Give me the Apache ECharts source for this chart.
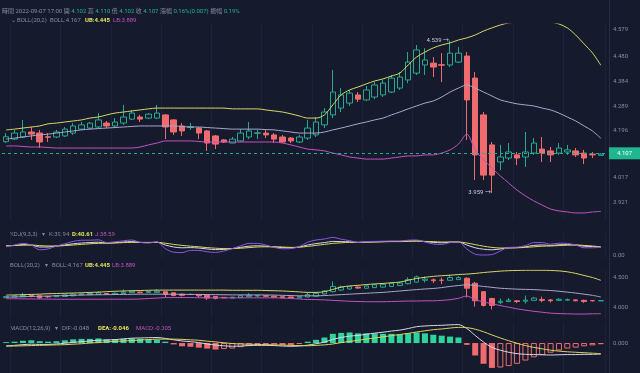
<!DOCTYPE html>
<html><head><meta charset="utf-8">
<script src="https://cdn.jsdelivr.net/npm/echarts@6/dist/echarts.min.js"></script>
<style>html,body{margin:0;padding:0;background:#151a2d}#c{width:640px;height:373px}</style>
</head><body><div id="c"></div><script>
const categories = [
'09-04 18:00','09-04 19:00','09-04 20:00','09-04 21:00','09-04 22:00','09-04 23:00',
'09-05 00:00','09-05 01:00','09-05 02:00','09-05 03:00','09-05 04:00','09-05 05:00','09-05 06:00','09-05 07:00','09-05 08:00','09-05 09:00','09-05 10:00','09-05 11:00',
'09-05 12:00','09-05 13:00','09-05 14:00','09-05 15:00','09-05 16:00','09-05 17:00','09-05 18:00','09-05 19:00','09-05 20:00','09-05 21:00','09-05 22:00','09-05 23:00',
'09-06 00:00','09-06 01:00','09-06 02:00','09-06 03:00','09-06 04:00','09-06 05:00','09-06 06:00','09-06 07:00','09-06 08:00','09-06 09:00','09-06 10:00','09-06 11:00',
'09-06 12:00','09-06 13:00','09-06 14:00','09-06 15:00','09-06 16:00','09-06 17:00','09-06 18:00','09-06 19:00','09-06 20:00','09-06 21:00','09-06 22:00','09-06 23:00',
'09-07 00:00','09-07 01:00','09-07 02:00','09-07 03:00','09-07 04:00','09-07 05:00','09-07 06:00','09-07 07:00','09-07 08:00','09-07 09:00','09-07 10:00','09-07 11:00',
'09-07 12:00','09-07 13:00','09-07 14:00','09-07 15:00','09-07 16:00','09-07 17:00'];
const open = [4.154,4.164,4.172,4.191,4.187,4.173,4.172,4.176,4.187,4.202,
4.206,4.210,4.225,4.214,4.225,4.240,4.248,4.244,4.244,4.256,
4.237,4.214,4.208,4.206,4.195,4.176,4.161,4.149,4.157,4.172,
4.186,4.187,4.180,4.172,4.168,4.153,4.168,4.180,4.218,4.256,
4.282,4.301,4.332,4.313,4.324,4.332,4.343,4.358,4.389,4.415,
4.446,4.453,4.447,4.446,4.457,4.480,4.396,4.256,4.142,4.077,
4.092,4.104,4.096,4.111,4.126,4.119,4.111,4.115,4.119,4.111,
4.107,4.102];
const close = [4.173,4.187,4.191,4.183,4.153,4.171,4.191,4.202,4.214,4.218,
4.225,4.237,4.214,4.229,4.248,4.263,4.240,4.259,4.263,4.210,
4.191,4.195,4.211,4.187,4.149,4.145,4.153,4.164,4.187,4.195,
4.188,4.180,4.164,4.153,4.157,4.172,4.206,4.229,4.267,4.343,
4.332,4.339,4.316,4.351,4.370,4.377,4.396,4.400,4.457,4.503,
4.465,4.438,4.445,4.491,4.491,4.313,4.104,4.027,4.027,4.096,
4.115,4.092,4.115,4.149,4.111,4.104,4.130,4.123,4.104,4.092,
4.104,4.107];
const low = [4.149,4.161,4.168,4.161,4.130,4.153,4.168,4.172,4.180,4.199,
4.202,4.206,4.206,4.210,4.218,4.237,4.229,4.240,4.240,4.164,
4.180,4.176,4.199,4.164,4.119,4.126,4.149,4.149,4.153,4.164,
4.164,4.168,4.149,4.149,4.149,4.149,4.161,4.172,4.206,4.244,
4.267,4.290,4.305,4.309,4.316,4.324,4.339,4.351,4.377,4.408,
4.408,4.400,4.381,4.438,4.453,4.161,4.008,4.008,3.959,4.046,
4.084,4.065,4.058,4.104,4.077,4.077,4.104,4.104,4.096,4.069,
4.092,4.102];
const high = [4.187,4.199,4.237,4.210,4.199,4.187,4.199,4.210,4.225,4.229,
4.229,4.263,4.233,4.244,4.294,4.275,4.256,4.263,4.294,4.259,
4.240,4.225,4.225,4.210,4.199,4.180,4.164,4.172,4.202,4.229,
4.199,4.199,4.187,4.180,4.172,4.180,4.237,4.248,4.282,4.427,
4.358,4.351,4.343,4.366,4.381,4.389,4.408,4.419,4.495,4.522,
4.510,4.476,4.491,4.539,4.514,4.495,4.419,4.267,4.153,4.142,
4.149,4.115,4.191,4.168,4.172,4.134,4.149,4.142,4.130,4.123,
4.115,4.110];
const ub = [4.199,4.202,4.206,4.210,4.214,4.222,4.225,4.229,4.233,4.237,
4.244,4.248,4.256,4.263,4.267,4.271,4.275,4.279,4.282,4.282,
4.282,4.282,4.282,4.282,4.282,4.282,4.282,4.279,4.279,4.279,
4.279,4.275,4.271,4.267,4.260,4.252,4.244,4.244,4.256,4.294,
4.332,4.351,4.362,4.374,4.385,4.393,4.404,4.415,4.446,4.476,
4.495,4.511,4.522,4.530,4.541,4.549,4.560,4.575,4.587,4.598,
4.606,4.609,4.613,4.613,4.613,4.609,4.602,4.587,4.560,4.526,
4.492,4.445];
const mid = [4.164,4.168,4.172,4.176,4.180,4.183,4.187,4.191,4.195,4.199,
4.202,4.204,4.206,4.208,4.210,4.212,4.214,4.214,4.214,4.214,
4.214,4.212,4.210,4.210,4.208,4.206,4.204,4.202,4.202,4.202,
4.202,4.200,4.199,4.195,4.191,4.187,4.187,4.187,4.191,4.199,
4.206,4.214,4.222,4.229,4.237,4.244,4.256,4.267,4.279,4.290,
4.301,4.309,4.324,4.343,4.358,4.370,4.358,4.343,4.328,4.313,
4.305,4.298,4.294,4.290,4.282,4.275,4.263,4.248,4.233,4.214,
4.195,4.167];
const lb = [4.138,4.138,4.136,4.134,4.134,4.132,4.130,4.130,4.130,4.130,
4.130,4.130,4.130,4.130,4.130,4.130,4.134,4.142,4.149,4.157,
4.157,4.157,4.157,4.155,4.153,4.153,4.153,4.153,4.153,4.153,
4.153,4.153,4.153,4.149,4.142,4.134,4.126,4.123,4.119,4.111,
4.104,4.096,4.092,4.088,4.088,4.088,4.092,4.096,4.100,4.100,
4.104,4.104,4.111,4.123,4.145,4.183,4.123,4.085,4.054,4.024,
3.997,3.970,3.948,3.929,3.913,3.898,3.891,3.887,3.883,3.883,
3.887,3.889];
const kLine = [45,48,52,50,40,40,45,50,56,60,62,64,60,62,65,67,63,62,64,50,
40,36,37,35,30,27,28,32,38,44,46,44,40,37,36,40,50,57,62,68,
67,66,63,65,66,67,68,68,70,71,67,63,61,64,65,50,36,29,26,30,
36,37,41,48,50,48,51,52,50,44,42,39.94];
const dLine = [47,47,49,50,47,45,45,47,50,53,56,58,59,60,62,63,63,63,63,59,
53,48,44,41,37,34,32,32,34,37,40,41,41,40,38,39,43,48,53,58,
61,63,63,64,65,66,67,67,68,69,68,67,65,65,65,60,52,44,38,35,
35,36,38,41,44,45,47,49,50,48,45,40.61];
const jLine = [41,50,58,50,26,30,45,56,68,74,74,76,62,66,71,75,63,60,66,32,
14,12,23,23,16,13,20,32,46,58,58,50,38,31,32,42,64,75,80,88,
79,72,63,67,68,69,70,70,74,75,65,55,53,62,65,30,4,0,2,20,
38,39,47,62,62,54,59,58,50,36,36,38.59];
const dif = [-0.012,-0.010,-0.007,-0.005,-0.006,-0.006,-0.004,-0.001,0.003,0.006,
0.009,0.012,0.013,0.015,0.018,0.021,0.022,0.023,0.024,0.020,
0.014,0.009,0.006,0.002,-0.004,-0.009,-0.012,-0.014,-0.013,-0.011,
-0.010,-0.010,-0.011,-0.013,-0.014,-0.013,-0.009,-0.003,0.004,0.016,
0.024,0.030,0.033,0.038,0.043,0.047,0.052,0.056,0.063,0.071,
0.074,0.076,0.077,0.079,0.080,0.063,0.033,0.004,-0.019,-0.031,
-0.040,-0.046,-0.049,-0.050,-0.051,-0.052,-0.051,-0.050,-0.050,-0.049,
-0.049,-0.048];
const dea = [-0.014,-0.013,-0.012,-0.011,-0.010,-0.009,-0.008,-0.007,-0.005,-0.003,
0.000,0.002,0.005,0.007,0.009,0.011,0.013,0.015,0.017,0.017,
0.017,0.016,0.014,0.012,0.008,0.005,0.001,-0.002,-0.004,-0.005,
-0.006,-0.007,-0.008,-0.009,-0.010,-0.011,-0.012,-0.010,-0.008,-0.004,
0.002,0.007,0.012,0.017,0.022,0.027,0.032,0.037,0.042,0.048,
0.053,0.058,0.061,0.065,0.068,0.067,0.060,0.049,0.035,0.022,
0.010,-0.001,-0.011,-0.019,-0.025,-0.031,-0.035,-0.038,-0.040,-0.042,
-0.044,-0.046];
const macdHist = [0.004,0.006,0.010,0.012,0.008,0.006,0.008,0.012,0.016,0.018,
0.018,0.020,0.016,0.016,0.018,0.020,0.018,0.016,0.014,0.006,
-0.006,-0.014,-0.016,-0.020,-0.024,-0.028,-0.026,-0.024,-0.018,-0.012,
-0.008,-0.006,-0.006,-0.008,-0.008,-0.004,0.006,0.014,0.024,0.040,
0.044,0.046,0.042,0.042,0.042,0.040,0.040,0.038,0.042,0.046,
0.042,0.036,0.032,0.028,0.024,-0.008,-0.054,-0.090,-0.108,-0.106,
-0.100,-0.090,-0.076,-0.062,-0.052,-0.042,-0.032,-0.024,-0.020,-0.014,
-0.010,-0.005];
const mainTicks = [4.579,4.480,4.384,4.289,4.196,4.107,4.017,3.921];
const kdjTicks = [0];
const bollTicks = [4.000,4.500];
const macdTicks = [0];

const FONT = 'Roboto, "Noto Sans CJK TC", "DejaVu Sans", sans-serif';
const FS = 6;
const UP = '#27a98c', DN = '#ef6b6d';
const C_UB = '#d9d865', C_MID = '#a9a6cf', C_LB = '#c452c2';
const GRAY = '#868ba2';
const last = close.length - 1;

const chart = echarts.init(document.getElementById('c'), null, {renderer:'canvas', width:640, height:373});
const grids = [
  {left:2, width:603, top:24, height:196},
  {left:2, width:603, top:233, height:25},
  {left:2, width:603, top:270, height:48},
  {left:2, width:603, top:322, height:51}
];
function xa(i){return {type:'category', gridIndex:i, data:categories, boundaryGap:true,
  axisLine:{show:false}, axisTick:{show:false}, axisLabel:{show:false},
  splitLine:{show:true, interval:(idx)=>idx%6===1, lineStyle:{color:'#1d2236', width:1}}};}
function ya(i,min,max,vals,dec){return {type:'value', gridIndex:i, position:'right', min:min, max:max, scale:false,
  axisLine:{show:false}, axisTick:{show:false, customValues:vals}, splitLine:{show:false},
  axisLabel:{customValues:vals, formatter:(v)=>Number(v).toFixed(dec), color:GRAY, fontSize:FS, margin:8, fontFamily:FONT}};}
const kData = categories.map((_,i)=>[open[i],close[i],low[i],high[i]]);
function line(name, data, color, xi){return {name:name, type:'line', xAxisIndex:xi, yAxisIndex:xi, data:data, symbol:'none',
  smooth:0.3, lineStyle:{color:color, width:1}, silent:true, z:3};}
const histData = macdHist.map((h,i)=>{
  const c = h >= 0 ? '#2fd49a' : DN;
  const shrink = h < 0 && i > 0 && Math.abs(h) < Math.abs(macdHist[i-1]);
  return {value:h, itemStyle: shrink ? {color:'rgba(0,0,0,0)', borderColor:c, borderWidth:1} : {color:c}};
});

function txt(x, y, s, color, bold){return {type:'text', x:x, y:y, silent:true,
  style:{text:s, fill:color, font:(bold?'bold ':'')+FS+'px '+FONT, verticalAlign:'middle', textAlign:'left'}};}

const header = '{g|時間} {g|2022-09-07 17:00} {g|開} {v|'+open[last].toFixed(3)+'} {g|高} {v|'+high[last].toFixed(3)+'} {g|低} {v|'+low[last].toFixed(3)+'} {g|收} {v|'+close[last].toFixed(3)+'} {g|漲幅} {v|0.16%(0.007)} {g|振幅} {v|0.19%}';

chart.setOption({
  backgroundColor:'#151a2d',
  animation:false,
  grid:grids,
  xAxis:[xa(0),xa(1),xa(2),xa(3)],
  yAxis:[ya(0,3.8563,4.6018,mainTicks,3), ya(1,-15,110,kdjTicks,2), ya(2,3.817,4.617,bollTicks,3), ya(3,-0.13,0.0913,macdTicks,3)],
  series:[
    {name:'K', type:'candlestick', xAxisIndex:0, yAxisIndex:0, data:kData, barWidth:6,
     itemStyle:{color:'rgba(0,0,0,0)', color0:DN, borderColor:UP, borderColor0:DN, borderWidth:1},
     markPoint:{symbol:'circle', symbolSize:0.1, silent:true,
       data:[{type:'max', valueDim:'highest'},{type:'min', valueDim:'lowest'}],
       label:{show:true, position:'left', distance:1, formatter:(p)=>Number(p.value).toFixed(3)+' →', color:'#c9ccd8', fontSize:FS, fontFamily:FONT}},
     markLine:{symbol:['none','none'], silent:true, data:[{yAxis:close[last]}],
       lineStyle:{type:[3,3], color:UP, width:1},
       label:{position:'end', formatter:()=>close[last].toFixed(3), color:'#ffffff', backgroundColor:'#1fb78f', padding:[3,8,3,8], fontSize:FS, fontFamily:FONT, distance:4}}},
    line('UB', ub, C_UB, 0), line('BOLL', mid, C_MID, 0), line('LB', lb, C_LB, 0),
    line('K', kLine, '#d8d8e6', 1), line('D', dLine, '#dcd45c', 1), line('J', jLine, '#8f55e6', 1),
    {name:'K2', type:'candlestick', xAxisIndex:2, yAxisIndex:2, data:kData, barWidth:5,
     itemStyle:{color:'rgba(0,0,0,0)', color0:DN, borderColor:UP, borderColor0:DN, borderWidth:1}},
    line('UB2', ub, C_UB, 2), line('BOLL2', mid, C_MID, 2), line('LB2', lb, C_LB, 2),
    {name:'MACD', type:'bar', xAxisIndex:3, yAxisIndex:3, data:histData, barWidth:6, silent:true},
    line('DIF', dif, '#d8d8e6', 3), line('DEA', dea, '#dcd45c', 3)
  ],
  graphic:[
    {type:'line', silent:true, shape:{x1:609.5,y1:0,x2:609.5,y2:373}, style:{stroke:'#272c42', lineWidth:1}},
    {type:'text', x:2, y:11, silent:true, style:{text:header, verticalAlign:'middle', font:FS+'px '+FONT,
      rich:{g:{fill:GRAY, font:FS+'px '+FONT}, v:{fill:'#25b48e', font:FS+'px '+FONT}}}},
    txt(11, 20, '⌄', GRAY), txt(17, 20, 'BOLL(20,2)', GRAY), txt(50, 20, 'BOLL:'+mid[last].toFixed(3), GRAY),
    txt(85, 20, 'UB:'+ub[last].toFixed(3), '#e6e35c', true), txt(113, 20, 'LB:'+lb[last].toFixed(3), C_LB),
    txt(10, 234, 'KDJ(9,3,3)', GRAY), txt(42, 234, '▾', GRAY), txt(49, 234, 'K:'+kLine[last].toFixed(2), GRAY),
    txt(72, 234, 'D:'+dLine[last].toFixed(2), '#e6e35c', true), txt(95, 234, 'J:'+jLine[last].toFixed(2), C_LB),
    txt(10, 265, 'BOLL(20,2)', GRAY), txt(45, 265, '▾', GRAY), txt(52, 265, 'BOLL:'+mid[last].toFixed(3), GRAY),
    txt(85, 265, 'UB:'+ub[last].toFixed(3), '#e6e35c', true), txt(112, 265, 'LB:'+lb[last].toFixed(3), C_LB),
    txt(10, 328, 'MACD(12,26,9)', GRAY), txt(55, 328, '▾', GRAY), txt(62, 328, 'DIF:'+dif[last].toFixed(3), GRAY),
    txt(98, 328, 'DEA:'+dea[last].toFixed(3), '#e6e35c', true), txt(136, 328, 'MACD:'+macdHist[last].toFixed(3), C_LB)
  ]
});
</script></body></html>
